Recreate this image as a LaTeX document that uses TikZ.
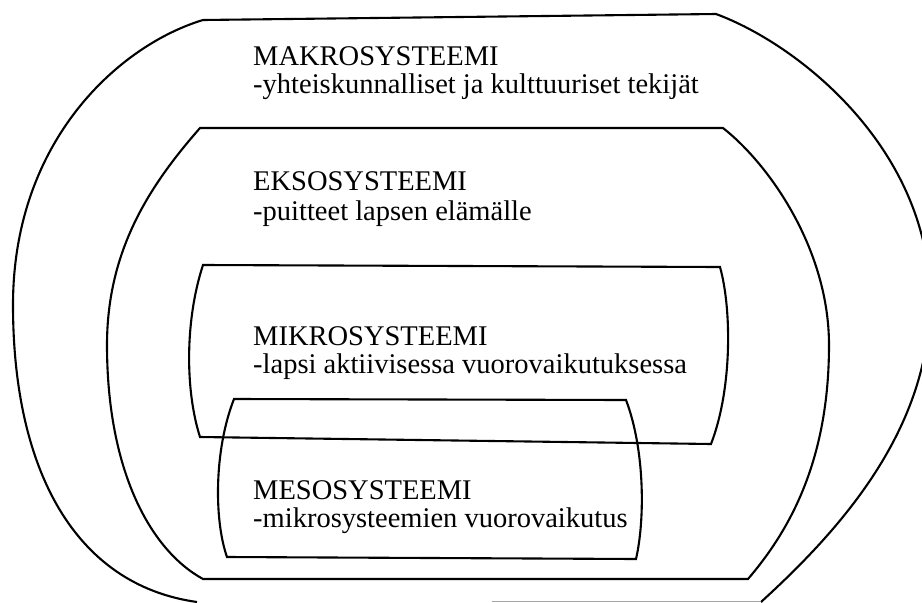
\documentclass[tikz,border=0pt]{standalone}
\usepackage{fontspec}
\setmainfont{Liberation Serif}
\begin{document}
\begin{tikzpicture}[x=1pt,y=-1pt,
  shapeline/.style={draw=black,line width=2.1pt,line join=miter},
  faintline/.style={draw=black!35,line width=1.2pt},
  lbl/.style={anchor=base west,inner sep=0pt,font=\fontsize{28.5}{30}\selectfont}]
\useasboundingbox[fill=white] (0,0) rectangle (922,603);

% Makrosysteemi (outer)
\draw[shapeline] (203,20) -- (716,14)
  .. controls (800,45) and (930,150) .. (930,300)
  .. controls (930,430) and (840,530) .. (761,602);
\draw[shapeline] (203,20)
  .. controls (120,45) and (13,140) .. (13,305)
  .. controls (13,470) and (75,585) .. (197,602);
\draw[faintline] (492,601.5) -- (760,601.5);

% Eksosysteemi
\draw[shapeline] (200,128) -- (723,128)
  .. controls (770,165) and (829,250) .. (829,345)
  .. controls (829,460) and (790,530) .. (748,579)
  -- (203,579)
  .. controls (150,550) and (107,470) .. (107,345)
  .. controls (107,250) and (150,185) .. cycle;

% Mikrosysteemi
\draw[shapeline] (203,265) -- (720,267)
  .. controls (732,310) and (732,390) .. (711,444)
  -- (200,437)
  .. controls (185,390) and (185,320) .. cycle;

% Mesosysteemi
\draw[shapeline] (234,399) -- (626,400)
  .. controls (645,450) and (645,520) .. (636,559)
  -- (227,557)
  .. controls (214,520) and (214,450) .. cycle;

% Texts
\node[lbl] (makroA) at (253,65) {MAKROSYSTEEMI};
\node[lbl] (makroB) at (253,93) {-yhteiskunnalliset ja kulttuuriset tekijät};
\node[lbl] (eksoA) at (253,190) {EKSOSYSTEEMI};
\node[lbl] (eksoB) at (253,220) {-puitteet lapsen elämälle};
\node[lbl] (mikroA) at (253,345) {MIKROSYSTEEMI};
\node[lbl] (mikroB) at (253,373) {-lapsi aktiivisessa vuorovaikutuksessa};
\node[lbl] (mesoA) at (253,499) {MESOSYSTEEMI};
\node[lbl] (mesoB) at (253,527) {-mikrosysteemien vuorovaikutus};
\end{tikzpicture}
\end{document}
